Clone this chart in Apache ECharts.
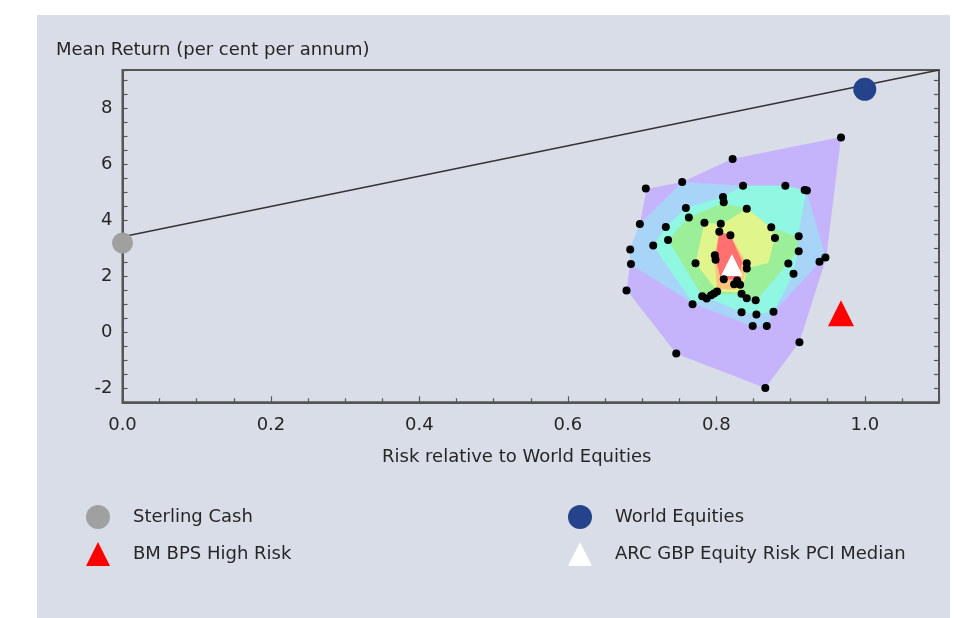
<!DOCTYPE html>
<html>
<head>
<meta charset="utf-8">
<script src="https://cdn.jsdelivr.net/npm/echarts@6/dist/echarts.min.js"></script>
<style>
html,body{margin:0;padding:0;background:#ffffff;width:954px;height:618px;overflow:hidden;}
#c{position:absolute;left:37px;top:15px;width:913px;height:603px;background:#d9dde7;}
</style>
</head>
<body>
<div id="c"></div>
<script>
// ---- data (x = risk relative to world equities, y = mean return % p.a.) ----
const sterlingCash = [[0.0, 3.18]];
const worldEquities = [[1.0, 8.66]];
const bmBpsHighRisk = [[0.968, 0.68]];
const arcMedian = [[0.821, 2.40]];
const marketLine = [[0.0, 3.40], [1.1, 9.35]];

const peerFunds = [
  [0.968, 6.94], [0.822, 6.18], [0.754, 5.36], [0.705, 5.12], [0.836, 5.22],
  [0.893, 5.22], [0.919, 5.07], [0.922, 5.05], [0.809, 4.82], [0.810, 4.63],
  [0.759, 4.43], [0.841, 4.40], [0.763, 4.09], [0.784, 3.90], [0.806, 3.87],
  [0.804, 3.58], [0.819, 3.46], [0.697, 3.86], [0.732, 3.75], [0.735, 3.29],
  [0.715, 3.09], [0.684, 2.95], [0.874, 3.74], [0.879, 3.36], [0.911, 3.42],
  [0.911, 2.89], [0.947, 2.66], [0.939, 2.51], [0.798, 2.74], [0.799, 2.58],
  [0.772, 2.46], [0.685, 2.43], [0.841, 2.46], [0.841, 2.27], [0.897, 2.45],
  [0.904, 2.08], [0.679, 1.49], [0.810, 1.89], [0.824, 1.71], [0.828, 1.84],
  [0.832, 1.69], [0.801, 1.45], [0.797, 1.38], [0.793, 1.32], [0.781, 1.28],
  [0.787, 1.20], [0.768, 1.00], [0.834, 1.37], [0.841, 1.21], [0.853, 1.14],
  [0.834, 0.71], [0.854, 0.63], [0.877, 0.73], [0.849, 0.22], [0.868, 0.22],
  [0.912, -0.36], [0.746, -0.76], [0.866, -1.99]
];

// contour regions (outer to inner)
const zonePurple = [[0.706,5.11],[0.754,5.36],[0.821,6.18],[0.968,6.96],[0.948,2.65],[0.912,-0.35],[0.866,-1.99],[0.746,-0.77],[0.679,1.51],[0.684,2.43],[0.684,2.97],[0.697,3.86]];
const zoneLightBlue = [[0.754,5.36],[0.836,5.22],[0.893,5.22],[0.921,5.07],[0.948,2.65],[0.940,2.51],[0.877,0.72],[0.869,0.22],[0.848,0.22],[0.769,1.01],[0.684,2.43],[0.684,2.97],[0.697,3.86]];
const zoneCyan = [[0.759,4.43],[0.808,4.82],[0.836,5.22],[0.893,5.22],[0.921,5.04],[0.910,3.40],[0.910,2.90],[0.904,2.08],[0.877,0.72],[0.854,0.65],[0.834,0.72],[0.788,1.22],[0.769,1.01],[0.715,3.08],[0.732,3.75]];
const zoneGreen = [[0.762,4.07],[0.808,4.61],[0.842,4.40],[0.874,3.72],[0.910,3.40],[0.910,2.90],[0.897,2.47],[0.854,1.15],[0.834,1.37],[0.793,1.33],[0.781,1.29],[0.735,3.29]];
const zoneYellow = [[0.784,3.90],[0.807,3.86],[0.842,4.40],[0.874,3.72],[0.879,3.36],[0.870,2.47],[0.842,2.29],[0.834,1.40],[0.801,1.47],[0.772,2.47]];
const zoneOrange = [[0.804,3.58],[0.819,3.47],[0.842,2.40],[0.834,1.69],[0.824,1.51],[0.801,1.54],[0.797,2.72]];
const zoneRed = [[0.804,3.58],[0.819,3.47],[0.835,2.51],[0.830,1.86],[0.806,1.90],[0.799,2.65]];

const zones = [zonePurple, zoneLightBlue, zoneCyan, zoneGreen, zoneYellow, zoneOrange, zoneRed];
const zoneColors = ['#c5b4fc', '#a8d4f8', '#8ff7e2', '#9bef98', '#e0f58c', '#ffc47c', '#ff7070'];

const xTicks = [0.0, 0.2, 0.4, 0.6, 0.8, 1.0];
const yTicks = [-2, 0, 2, 4, 6, 8];

const FONT = 'DejaVu Sans';
const FS = 18;
const TXT = '#262626';
const chart = echarts.init(document.getElementById('c'));

const zoneSeries = {
  type: 'custom',
  name: 'zones',
  silent: true,
  z: 1,
  data: zones.map((z, i) => [i]),
  renderItem: function (params, api) {
    const idx = params.dataIndex;
    const pts = zones[idx].map(p => api.coord(p));
    return {
      type: 'polygon',
      shape: { points: pts },
      style: { fill: zoneColors[idx], stroke: null }
    };
  }
};

const yLabel = v => {
  const r = Math.round(v);
  if (Math.abs(v - r) < 1e-6 && yTicks.indexOf(r) >= 0) return String(r);
  return '';
};

const legendText = { fontFamily: FONT, fontSize: FS, color: TXT, padding: [0, 0, 0, 18] };

chart.setOption({
  animation: false,
  backgroundColor: '#d9dde7',
  textStyle: { fontFamily: FONT },
  title: {
    text: 'Mean Return (per cent per annum)',
    left: 19, top: 26, padding: 0,
    textStyle: { fontFamily: FONT, fontSize: FS, fontWeight: 'normal', color: TXT }
  },
  grid: {
    left: 85.5, top: 55, width: 816.5, height: 332.3,
    show: true, borderColor: '#555', borderWidth: 2, backgroundColor: 'transparent'
  },
  legend: [
    {
      left: 44, top: 485, orient: 'vertical', itemWidth: 24, itemHeight: 24, itemGap: 13,
      data: ['Sterling Cash', 'BM BPS High Risk'],
      textStyle: legendText, selectedMode: false
    },
    {
      left: 526, top: 485, orient: 'vertical', itemWidth: 24, itemHeight: 24, itemGap: 13,
      data: ['World Equities', 'ARC GBP Equity Risk PCI Median'],
      textStyle: legendText, selectedMode: false
    }
  ],
  xAxis: {
    type: 'value', min: 0, max: 1.1, interval: 0.2,
    name: 'Risk relative to World Equities', nameLocation: 'middle', nameGap: 46,
    nameTextStyle: { fontFamily: FONT, fontSize: FS, color: TXT, padding: [0, 28, 0, 0] },
    axisLine: { show: true, onZero: false, lineStyle: { color: '#555', width: 2 } },
    axisTick: { show: true, inside: true, length: 6, lineStyle: { color: '#555', width: 1.2 } },
    minorTick: { show: true, splitNumber: 4, length: 4, lineStyle: { color: '#555', width: 1.2 } },
    splitLine: { show: false },
    axisLabel: {
      fontFamily: FONT, fontSize: FS, color: TXT, margin: 14, showMaxLabel: false,
      formatter: v => (xTicks.some(t => Math.abs(t - v) < 1e-6) ? v.toFixed(1) : '')
    }
  },
  yAxis: [
    {
      type: 'value', min: -2.5, max: 9.35, interval: 0.5,
      axisLine: { show: true, onZero: false, lineStyle: { color: '#555', width: 2 } },
      axisTick: { show: true, inside: true, length: 5, lineStyle: { color: '#555', width: 1.2 } },
      splitLine: { show: false },
      axisLabel: { fontFamily: FONT, fontSize: FS, color: TXT, margin: 10, formatter: yLabel }
    },
    {
      type: 'value', min: -2.5, max: 9.35, interval: 0.5, position: 'right',
      axisLine: { show: true, onZero: false, lineStyle: { color: '#555', width: 2 } },
      axisTick: { show: true, inside: true, length: 5, lineStyle: { color: '#555', width: 1.2 } },
      splitLine: { show: false },
      axisLabel: { show: false }
    }
  ],
  series: [
    zoneSeries,
    {
      type: 'line', name: 'line', data: marketLine, symbol: 'none', z: 3, silent: true,
      lineStyle: { color: '#333', width: 1.5 }
    },
    {
      type: 'scatter', name: 'Sterling Cash', data: sterlingCash, symbol: 'circle', symbolSize: 21,
      itemStyle: { color: '#a0a0a0', opacity: 1 }, z: 4, clip: false
    },
    {
      type: 'scatter', name: 'World Equities', data: worldEquities, symbol: 'circle', symbolSize: 23,
      itemStyle: { color: '#24438a', opacity: 1 }, z: 4, clip: false
    },
    {
      type: 'scatter', name: 'BM BPS High Risk', data: bmBpsHighRisk, symbol: 'triangle', symbolSize: 26,
      itemStyle: { color: '#ff0000', opacity: 1 }, z: 4
    },
    {
      type: 'scatter', name: 'ARC GBP Equity Risk PCI Median', data: arcMedian, symbol: 'triangle', symbolSize: 22,
      itemStyle: { color: '#ffffff', opacity: 1 }, z: 4
    },
    {
      type: 'scatter', name: 'Peer funds', data: peerFunds, symbol: 'circle', symbolSize: 8,
      itemStyle: { color: '#000000', opacity: 1 }, z: 5
    }
  ]
});
</script>
</body>
</html>
